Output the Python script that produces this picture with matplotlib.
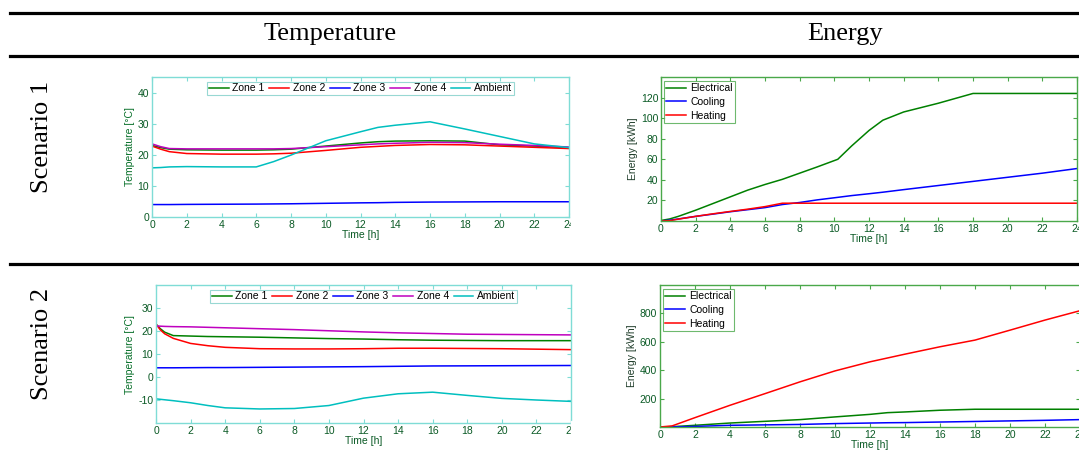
import matplotlib
matplotlib.use("Agg")
import matplotlib.pyplot as plt
from matplotlib.lines import Line2D
from matplotlib.patches import Rectangle

plt.rcParams['font.family'] = ['Liberation Sans', 'DejaVu Sans']
plt.rcParams['axes.unicode_minus'] = False

# scenario 1, temperature
t1 = [0, 0.5, 1, 2, 4, 6, 7, 8, 10, 12, 13, 14, 16, 18, 20, 22, 24]
zone1_s1 = [23, 22.3, 21.8, 21.6, 21.5, 21.5, 21.6, 21.8, 22.8, 23.8, 24.2, 24.4, 24.5, 24.4, 23.2, 22.8, 22.3]
zone2_s1 = [22.8, 21.8, 21, 20.4, 20.2, 20.2, 20.3, 20.5, 21.4, 22.4, 22.7, 23, 23.3, 23.2, 22.8, 22.4, 22]
zone3_s1 = [4, 4, 4, 4.05, 4.1, 4.15, 4.2, 4.25, 4.4, 4.55, 4.6, 4.7, 4.8, 4.85, 4.9, 4.9, 4.9]
zone4_s1 = [23.5, 22.6, 22, 21.9, 21.9, 21.9, 21.9, 22, 22.6, 23.2, 23.5, 23.7, 24, 23.9, 23.4, 23, 22.5]
amb_s1 = [15.8, 15.9, 16.1, 16.2, 16.1, 16.1, 17.8, 19.9, 24.5, 27.4, 28.8, 29.5, 30.6, 28.3, 25.9, 23.5, 22.3]

# scenario 2, temperature
t2 = [0, 0.25, 0.5, 1, 2, 3, 4, 6, 8, 10, 12, 14, 16, 18, 20, 22, 24]
zone1_s2 = [23, 21, 19.5, 18, 17.8, 17.6, 17.5, 17.3, 17, 16.7, 16.5, 16.2, 16, 15.9, 15.8, 15.8, 15.8]
zone2_s2 = [23, 20.5, 18.8, 16.8, 14.6, 13.6, 12.9, 12.3, 12.2, 12.2, 12.3, 12.5, 12.5, 12.4, 12.3, 12.1, 11.9]
zone3_s2 = [4, 4, 4, 4, 4.05, 4.1, 4.1, 4.2, 4.3, 4.4, 4.5, 4.65, 4.8, 4.85, 4.9, 4.95, 5]
zone4_s2 = [22.2, 22.1, 22, 21.9, 21.8, 21.6, 21.4, 21, 20.6, 20.1, 19.6, 19.2, 18.9, 18.6, 18.5, 18.4, 18.3]
amb_s2 = [-9.5, -9.7, -9.9, -10.3, -11.2, -12.4, -13.4, -13.9, -13.7, -12.4, -9.2, -7.3, -6.6, -8, -9.3, -10, -10.6]

# scenario 1, energy
te1 = [0, 0.5, 1, 2, 3, 4, 5, 6, 7, 8, 9, 10.2, 11, 12, 12.8, 14, 16, 18, 20, 22, 24]
elec_s1 = [0.5, 2, 4.5, 10.5, 17, 23.5, 30, 35.5, 40.5, 46.5, 52.5, 60, 73, 88, 98, 106, 114.5, 124, 124, 124, 124]
cool_s1 = [0, 0.8, 2, 4.5, 6.7, 9, 11, 13, 16, 18, 20.5, 23, 24.7, 26.5, 28, 30.5, 34.5, 38.5, 42.5, 46.5, 51]
heat_s1 = [0, 0.3, 1.8, 4.5, 7, 9.3, 11.5, 14, 17.3, 17.3, 17.3, 17.3, 17.3, 17.3, 17.3, 17.3, 17.3, 17.3, 17.3, 17.3, 17.3]

# scenario 2, energy
te2 = [0, 0.7, 2, 4, 6, 8, 10, 12, 13, 14, 16, 18, 20, 22, 24]
elec_s2 = [0, 2, 12, 28, 40, 52, 71, 89, 101, 106, 118, 125, 125, 125, 125]
cool_s2 = [0, 1, 4, 12, 15, 18, 24, 28, 30, 31, 35, 39, 43, 47, 52]
heat_s2 = [0, 8, 66, 153, 235, 318, 395, 459, 486, 513, 565, 612, 682, 753, 819]

hours = list(range(0, 25, 2))
zone_names = ['Zone 1', 'Zone 2', 'Zone 3', 'Zone 4', 'Ambient']
energy_names = ['Electrical', 'Cooling', 'Heating']
zone_cols = ['#008000', '#ff0000', '#0000ff', '#bf00bf', '#00bfbf']
energy_cols = ['#008000', '#0000ff', '#ff0000']

W, H = 1079, 473
fig = plt.figure(figsize=(W / 100, H / 100), dpi=100)

def box(l, r, top, bot):
    return [l / W, 1 - bot / H, (r - l) / W, (bot - top) / H]

tick_col = '#0a5a25'
cyan_frame = '#7fdcd6'
green_frame = '#4aa84a'

def style(ax, frame):
    for s in ax.spines.values():
        s.set_color(frame)
        s.set_linewidth(1.0)
    ax.tick_params(direction='in', length=3, width=0.8, colors=frame,
                   labelcolor=tick_col, labelsize=7.5, top=True, right=True, pad=2)
    ax.set_xlim(0, 24)
    ax.set_xticks(hours)
    ax.set_xlabel('Time [h]', fontsize=7.5, color=tick_col, labelpad=0)

def temp_plot(ax, t, series, ylim, yt, frame_top):
    for y, c, n in zip(series, zone_cols, zone_names):
        ax.plot(t, y, color=c, lw=1.1, label=n)
    style(ax, cyan_frame)
    ax.set_ylim(*ylim)
    ax.set_yticks(yt)
    ax.set_ylabel('Temperature [°C]', fontsize=7.5, color='#08702a', labelpad=2)
    leg = ax.legend(ncol=5, loc='upper center', bbox_to_anchor=(0.5, frame_top),
                    fontsize=7.5, frameon=True, fancybox=False, handlelength=1.9,
                    columnspacing=0.45, handletextpad=0.35, borderpad=0.15,
                    borderaxespad=0)
    leg.get_frame().set_edgecolor('#7fcfc8')
    leg.get_frame().set_linewidth(0.8)

def energy_plot(ax, t, series, ylim, yt):
    for y, c, n in zip(series, energy_cols, energy_names):
        ax.plot(t, y, color=c, lw=1.1, label=n)
    style(ax, green_frame)
    ax.set_ylim(*ylim)
    ax.set_yticks(yt)
    ax.set_ylabel('Energy [kWh]', fontsize=7.5, color='#1f3d2a', labelpad=2)
    leg = ax.legend(loc='upper left', bbox_to_anchor=(0.008, 0.97), fontsize=7.5,
                    frameon=True, fancybox=False, handlelength=1.9,
                    handletextpad=0.4, labelspacing=0.35, borderpad=0.2,
                    borderaxespad=0)
    leg.get_frame().set_edgecolor(green_frame)
    leg.get_frame().set_linewidth(0.8)

ax1 = fig.add_axes(box(152, 569, 77, 217))
temp_plot(ax1, t1, [zone1_s1, zone2_s1, zone3_s1, zone4_s1, amb_s1], (0, 45), [0, 10, 20, 30, 40], 0.965)
ax2 = fig.add_axes(box(156, 571, 285, 423))
temp_plot(ax2, t2, [zone1_s2, zone2_s2, zone3_s2, zone4_s2, amb_s2], (-20, 40), [-10, 0, 10, 20, 30], 0.965)
ax3 = fig.add_axes(box(661, 1077, 77, 221))
energy_plot(ax3, te1, [elec_s1, cool_s1, heat_s1], (0, 140), [20, 40, 60, 80, 100, 120])
ax4 = fig.add_axes(box(660, 1080, 285, 427))
energy_plot(ax4, te2, [elec_s2, cool_s2, heat_s2], (0, 1000), [200, 400, 600, 800])

# cut the right edge of the temperature panels like the source image
for top, bot in [(215, 240), (421, 445)]:
    fig.add_artist(Rectangle((571 / W, 1 - bot / H), 30 / W, (bot - top) / H,
                             transform=fig.transFigure, color='white', zorder=10))

# table rules
for y in [13, 56, 264]:
    fig.add_artist(Line2D([10 / W, 1], [1 - y / H] * 2, transform=fig.transFigure,
                          color='black', lw=2.3))

serif = ['Liberation Serif', 'DejaVu Serif']
fig.text(330 / W, 1 - 34 / H, 'Temperature', ha='center', va='center', fontsize=19, family=serif)
fig.text(845 / W, 1 - 34 / H, 'Energy', ha='center', va='center', fontsize=19, family=serif)
fig.text(42 / W, 1 - 137 / H, 'Scenario 1', ha='center', va='center', fontsize=19,
         family=serif, rotation=90)
fig.text(42 / W, 1 - 344 / H, 'Scenario 2', ha='center', va='center', fontsize=19,
         family=serif, rotation=90)

fig.savefig('out.png', dpi=100)
